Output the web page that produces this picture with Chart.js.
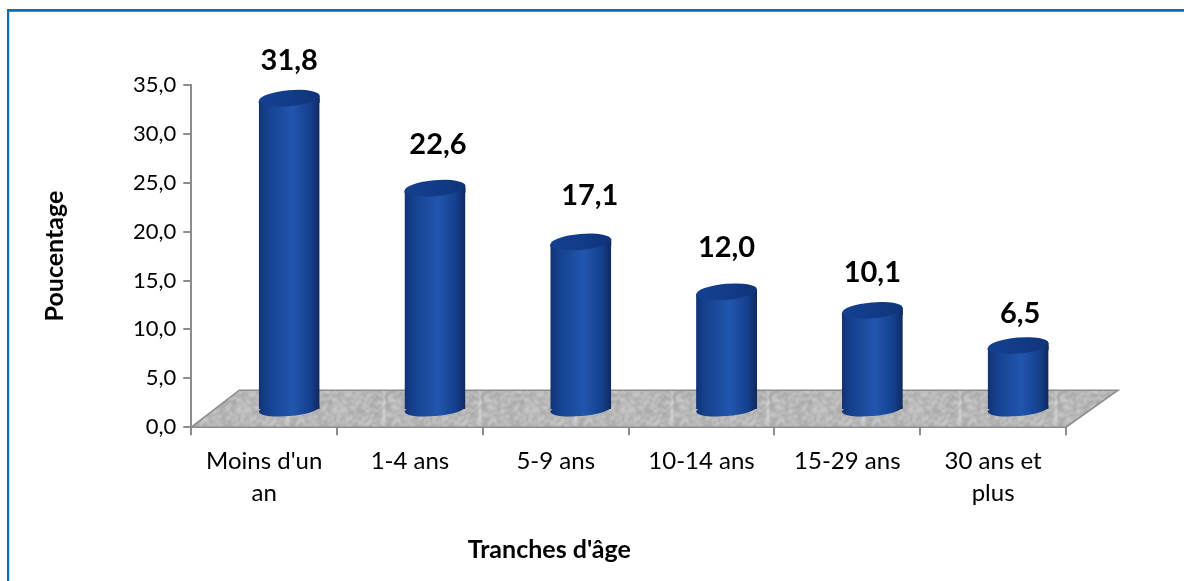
<!DOCTYPE html>
<html><head><meta charset="utf-8">
<style>html,body{margin:0;padding:0;background:#fff;overflow:hidden}#w{width:1184px;height:581px;position:relative}</style>
<script src="https://cdn.jsdelivr.net/npm/chart.js@4"></script>
</head><body><div id="w"><canvas id="c" width="1184" height="581"></canvas></div>
<script>
const categories = [["Moins d'un","an"],"1-4 ans","5-9 ans","10-14 ans","15-29 ans",["30 ans et","plus"]];
const values = [31.8,22.6,17.1,12.0,10.1,6.5];
const yTitle = "Poucentage";
const xTitle = "Tranches d'âge";
const FONT = 'Lato, "Open Sans", sans-serif';
const fr = v => v.toFixed(1).replace('.',',');

// depth of the pseudo 3D floor, in pixels
const DEPTH_X = 48, DEPTH_Y = 37, BAR_DX = 25, BAR_DY = 18;
const PX_PER_UNIT = 341/35, PX_PER_CAT = 874/6;
const labelLift = [38,44,46,44,38,32];
const labelDx = [0,3,9,0,0,2];

function floorPattern(ctx){
  const size=96, cell=2, n=size/cell;
  const t=document.createElement('canvas'); t.width=t.height=size;
  const g=t.getContext('2d');
  for(let i=0;i<n;i++)for(let j=0;j<n;j++){
    const h=Math.abs(Math.sin(i*12.9898+j*78.233)*43758.5453)%1;
    const c=Math.round(162+h*46);
    g.fillStyle=`rgb(${c},${c},${c})`;
    g.fillRect(i*cell,j*cell,cell,cell);
  }
  const o=document.createElement('canvas'); o.width=o.height=size;
  const og=o.getContext('2d');
  og.filter='blur(1px)';
  for(let a=-1;a<=1;a++)for(let b=-1;b<=1;b++)og.drawImage(t,a*size,b*size);
  return ctx.createPattern(o,'repeat');
}
const cylinder={
  id:'cylinder',
  beforeDraw(chart){
    const {ctx,width,height}=chart;
    ctx.save();
    ctx.fillStyle='#fff';ctx.fillRect(0,0,width,height);
    ctx.fillStyle='#2c8fdc';ctx.fillRect(9,11,width-9,1);
    ctx.fillStyle='#bfe0f5';ctx.fillRect(9,12,1,height-12);
    ctx.fillStyle='#0b6cb8';ctx.fillRect(7,9,width-7,2);ctx.fillRect(7,9,2,height-9);
    ctx.restore();
  },
  beforeDatasetsDraw(chart){
    const {ctx,scales:{x,y}}=chart;
    const l=x.left,r=x.right,b=y.bottom;
    ctx.save();
    ctx.beginPath();ctx.moveTo(l,b);ctx.lineTo(l+DEPTH_X,b-DEPTH_Y);ctx.lineTo(r+DEPTH_X+4,b-DEPTH_Y);ctx.lineTo(r,b);ctx.closePath();
    ctx.fillStyle=floorPattern(ctx);ctx.fill();
    ctx.strokeStyle='#8c8c8c';ctx.lineWidth=1.5;ctx.stroke();
    ctx.restore();
  },
  beforeDatasetDraw(chart,args){
    const {ctx}=chart;
    const bars=chart.getDatasetMeta(args.index).data;
    bars.forEach((b,i)=>{
      ctx.save();
      ctx.fillStyle=bodyGradient(chart,i);
      ctx.beginPath();ctx.ellipse(b.x,b.base,b.width/2,7,-TILT,0,Math.PI*2);ctx.fill();
      ctx.restore();
    });
    ctx.save();
    ctx.beginPath();
    bars.forEach(b=>{
      const hw=b.width/2,s=hw*Math.tan(TILT);
      ctx.moveTo(b.x-hw,b.y+s);ctx.lineTo(b.x+hw,b.y-s);ctx.lineTo(b.x+hw,b.base+20);ctx.lineTo(b.x-hw,b.base+20);ctx.closePath();
    });
    ctx.clip();
  },
  afterDatasetDraw(chart,args){
    const {ctx}=chart;
    ctx.restore();
    const bars=chart.getDatasetMeta(args.index).data;
    bars.forEach((b,i)=>{
      const hw=b.width/2,s=hw*Math.tan(TILT);
      ctx.save();
      ctx.fillStyle=bodyGradient(chart,i);
      ctx.beginPath();ctx.moveTo(b.x-hw,b.y+s);ctx.lineTo(b.x+hw,b.y-s);ctx.lineTo(b.x+hw,b.y+s+2);ctx.lineTo(b.x-hw,b.y+s+2);ctx.closePath();ctx.fill();
      ctx.beginPath();ctx.ellipse(b.x,b.y,hw,8,-TILT,0,Math.PI*2);
      const g=ctx.createLinearGradient(b.x-hw,0,b.x+hw,0);
      g.addColorStop(0,'#14408f');g.addColorStop(.5,'#123c88');g.addColorStop(1,'#0f3478');
      ctx.fillStyle=g;ctx.fill();
      ctx.restore();
    });
  },
  afterDatasetsDraw(chart){
    const {ctx,scales:{x}}=chart;
    const bars=chart.getDatasetMeta(0).data;
    ctx.save();
    ctx.fillStyle='#000';ctx.font='bold 29px '+FONT;ctx.textAlign='center';ctx.textBaseline='middle';
    bars.forEach((b,i)=>ctx.fillText(fr(values[i]),b.x+labelDx[i],b.y-labelLift[i]));
    ctx.font='bold 25px '+FONT;
    ctx.fillText(xTitle,x.left+358,550);
    ctx.restore();
  }
};
const TILT=5*Math.PI/180;
function bodyGradient(chart,i){
  const s=chart.scales.x2;
  const cx=s.getPixelForValue(i),hw=PX_PER_CAT*0.418/2;
  const g=chart.ctx.createLinearGradient(cx-hw,0,cx+hw,0);
  g.addColorStop(0,'#123274');
  g.addColorStop(.12,'#143f8c');
  g.addColorStop(.55,'#2156ae');
  g.addColorStop(.85,'#143f8c');
  g.addColorStop(1,'#10295f');
  return g;
}
new Chart(document.getElementById('c'),{
  type:'bar',
  data:{labels:categories,datasets:[{
    data:values.map((v,i)=>({x:i,y:v})),
    xAxisID:'x2',yAxisID:'y2',
    backgroundColor:c=>c.chart.chartArea?bodyGradient(c.chart,c.dataIndex):'#1b4fa0',
    borderWidth:0,barPercentage:0.418,categoryPercentage:1
  }]},
  options:{
    responsive:false,animation:false,
    layout:{padding:{left:40,right:118,top:85,bottom:62}},
    plugins:{legend:{display:false},tooltip:{enabled:false}},
    scales:{
      x:{type:'category',offset:true,
        grid:{display:true,drawOnChartArea:false,drawTicks:true,tickLength:8,offset:true,color:'#8c8c8c',lineWidth:2},
        border:{display:true,color:'#8c8c8c',width:2},
        ticks:{color:'#000',font:{family:FONT,size:24,lineHeight:1.33},maxRotation:0,autoSkip:false,padding:10}},
      y:{min:0,max:35,
        grid:{display:true,drawOnChartArea:false,drawTicks:true,tickLength:8,color:'#8c8c8c',lineWidth:2},
        border:{display:true,color:'#8c8c8c',width:2},
        ticks:{color:'#000',font:{family:FONT,size:22},stepSize:5,padding:7,callback:v=>fr(v)},
        title:{display:true,text:yTitle,color:'#000',font:{family:FONT,size:25,weight:'bold'},padding:{top:0,bottom:56}}},
      x2:{type:'linear',display:false,offset:false,min:-0.5-BAR_DX/PX_PER_CAT,max:5.5-BAR_DX/PX_PER_CAT},
      y2:{type:'linear',display:false,min:-BAR_DY/PX_PER_UNIT,max:35-BAR_DY/PX_PER_UNIT}
    }
  },
  plugins:[cylinder]
});
</script></body></html>
